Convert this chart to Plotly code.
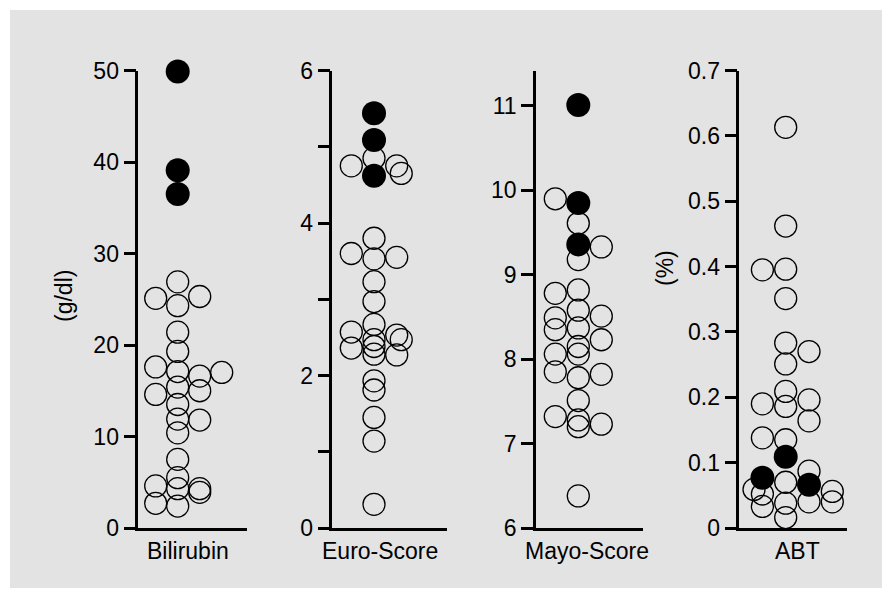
import plotly.graph_objects as go

# page body has an 8px default margin, so the figure is drawn 8px in from the window edge
OFF = 8
W, H = 892 - OFF, 598 - OFF

# ---------------- data ----------------
panel_names = ["Bilirubin", "Euro-Score", "Mayo-Score", "ABT"]

bili_open_vals = [26.9, 24.3, 21.4, 19.3, 17.1, 15.4, 13.5, 11.9, 10.4, 7.5, 5.5, 4.3, 2.4,
                  25.1, 17.6, 14.6, 4.6, 2.7,
                  25.3, 16.6, 15.0, 11.8, 4.3, 3.9,
                  17.0]
bili_open_cols = [0] * 13 + [-1] * 5 + [1] * 6 + [2]
bili_fill_vals = [49.9, 39.1, 36.5]
bili_fill_cols = [0, 0, 0]

euro_open_vals = [4.85, 3.80, 3.53, 3.23, 2.97, 2.67, 2.47, 2.38, 2.28, 1.93, 1.81, 1.45, 1.14, 0.31,
                  4.75, 3.60, 2.57, 2.36,
                  4.75, 3.55, 2.53, 2.27,
                  4.65, 2.47]
euro_open_cols = [0] * 14 + [-1] * 4 + [1] * 4 + [1.2, 1.2]
euro_fill_vals = [5.44, 5.09, 4.62]
euro_fill_cols = [0, 0, 0]

mayo_open_vals = [9.90, 8.78, 8.49, 8.35, 8.06, 7.85, 7.32,
                  9.61, 9.18, 8.82, 8.58, 8.37, 8.15, 8.06, 7.78, 7.51, 7.28, 7.20, 6.38,
                  9.33, 8.51, 8.23, 7.82, 7.23]
mayo_open_cols = [-1] * 7 + [0] * 12 + [1] * 5
mayo_fill_vals = [11.01, 9.85, 9.36]
mayo_fill_cols = [0, 0, 0]

abt_open_vals = [0.613, 0.462, 0.396, 0.351, 0.283, 0.251, 0.209, 0.186, 0.135, 0.070, 0.038, 0.016,
                 0.395, 0.190, 0.138, 0.052, 0.033,
                 0.059,
                 0.270, 0.196, 0.164, 0.087, 0.040,
                 0.056, 0.040]
abt_open_cols = [0] * 12 + [-1] * 5 + [-1.36] + [1] * 5 + [2, 2]
abt_fill_vals = [0.109, 0.077, 0.066]
abt_fill_cols = [0, -1, 1]

y_ranges = [[0, 50], [0, 6], [6, 11.42], [0, 0.7]]
y_tickvals = [[0, 10, 20, 30, 40, 50],
              [0, 1, 2, 3, 4, 5, 6],
              [6, 7, 8, 9, 10, 11],
              [0, 0.1, 0.2, 0.3, 0.4, 0.5, 0.6, 0.7]]
y_ticktext = [["0", "10", "20", "30", "40", "50"],
              ["0", "", "2", "", "4", "", "6"],
              ["6", "7", "8", "9", "10", "11"],
              ["0", "0.1", "0.2", "0.3", "0.4", "0.5", "0.6", "0.7"]]
y_titles = ["(g/dl)", "(%)"]

# ---------------- layout geometry (window pixels) ----------------
ax_left = [138.3, 332.3, 536.0, 739.3]
ax_right = [246.7, 447.0, 643.0, 846.7]
col_center = [177.7, 374.0, 578.3, 785.7]
col_step = [22.0, 22.7, 23.0, 23.3]
label_x = [188, 380, 587, 797]
y_top, y_bot = 70.5, 528.0

FONT = "Liberation Sans, Arial, Helvetica, sans-serif"
FS = 23


def px(x):
    return (x - OFF) / W


def py(y):
    return 1 - (y - OFF) / H


panels = [
    (bili_open_vals, bili_open_cols, bili_fill_vals, bili_fill_cols),
    (euro_open_vals, euro_open_cols, euro_fill_vals, euro_fill_cols),
    (mayo_open_vals, mayo_open_cols, mayo_fill_vals, mayo_fill_cols),
    (abt_open_vals, abt_open_cols, abt_fill_vals, abt_fill_cols),
]

fig = go.Figure()
layout = dict(
    template="none",
    width=W, height=H, autosize=False,
    margin=dict(l=0, r=0, t=0, b=0, pad=0, autoexpand=False),
    paper_bgcolor="white", plot_bgcolor="rgba(0,0,0,0)",
    showlegend=False,
    font=dict(family=FONT, size=FS, color="black"),
    shapes=[dict(type="rect", xref="paper", yref="paper",
                 x0=px(10), x1=px(882), y0=py(588), y1=py(10),
                 fillcolor="#e3e3e3", line=dict(width=0), layer="below")],
    annotations=[],
)

for i, (ov, oc, fv, fc) in enumerate(panels):
    n = "" if i == 0 else str(i + 1)
    xa, ya = "x" + n, "y" + n
    fig.add_trace(go.Scatter(
        x=oc, y=ov, mode="markers", xaxis=xa, yaxis=ya, cliponaxis=False,
        marker=dict(size=22, color="rgba(0,0,0,0)", line=dict(color="black", width=1.3)),
        hoverinfo="y"))
    fig.add_trace(go.Scatter(
        x=fc, y=fv, mode="markers", xaxis=xa, yaxis=ya, cliponaxis=False,
        marker=dict(size=24, color="black", line=dict(color="black", width=0)),
        hoverinfo="y"))
    c, s = col_center[i], col_step[i]
    xr = [(ax_left[i] - c) / s, (ax_right[i] - c) / s]
    layout["xaxis" + n] = dict(
        domain=[px(ax_left[i]), px(ax_right[i])], range=xr, anchor=ya,
        showline=True, linecolor="black", linewidth=2.5, showgrid=False,
        zeroline=False, showticklabels=False, ticks="", fixedrange=True,
        automargin=False)
    layout["yaxis" + n] = dict(
        domain=[py(y_bot), py(y_top)], range=y_ranges[i], anchor=xa,
        showline=True, linecolor="black", linewidth=2.5, showgrid=False,
        zeroline=False, ticks="outside", ticklen=12, tickwidth=2.5, tickcolor="black",
        tickmode="array", tickvals=y_tickvals[i], ticktext=y_ticktext[i],
        tickfont=dict(family=FONT, size=FS, color="black"), fixedrange=True,
        automargin=False)
    layout["annotations"].append(dict(
        text=panel_names[i], xref="paper", yref="paper",
        x=px(label_x[i]), y=py(551), xanchor="center", yanchor="middle",
        showarrow=False, font=dict(family=FONT, size=FS, color="black")))

layout["annotations"].append(dict(
    text=y_titles[0], xref="paper", yref="paper", x=px(64), y=py(296),
    xanchor="center", yanchor="middle", textangle=-90, showarrow=False,
    font=dict(family=FONT, size=FS, color="black")))
layout["annotations"].append(dict(
    text=y_titles[1], xref="paper", yref="paper", x=px(665), y=py(268),
    xanchor="center", yanchor="middle", textangle=-90, showarrow=False,
    font=dict(family=FONT, size=FS, color="black")))

fig.update_layout(**layout)
fig.write_html("out.html")
